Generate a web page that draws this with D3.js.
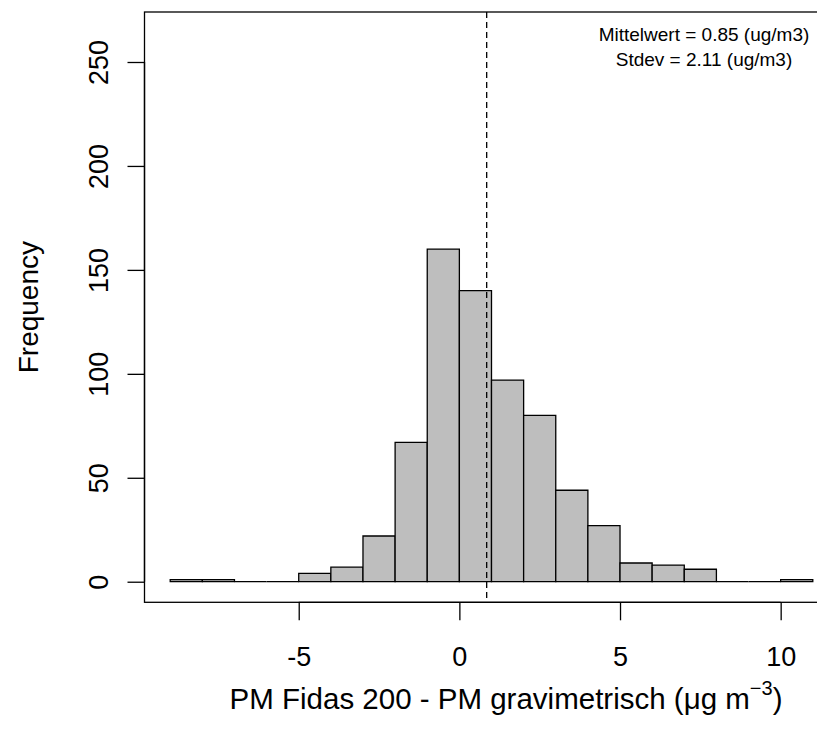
<!DOCTYPE html>
<html><head><meta charset="utf-8">
<script src="https://cdn.jsdelivr.net/npm/d3@7"></script>
<style>
body{margin:0;background:#fff}
svg{display:block}
text{font-family:"Liberation Sans",Arial,Helvetica,sans-serif;fill:#000}
</style>
</head><body>
<svg id="chart" width="817" height="732"></svg>
<script>
// ---- data ----
const binEdges = [-9,-8,-7,-6,-5,-4,-3,-2,-1,0,1,2,3,4,5,6,7,8,9,10,11];
const counts   = [1,1,0,0,4,7,22,67,160,140,97,80,44,27,9,8,6,0,0,1];
const xTicks = [-5,0,5,10];
const yTicks = [0,50,100,150,200,250];
const meanValue = 0.85;
const statLines = ["Mittelwert = 0.85 (ug/m3)","Stdev = 2.11 (ug/m3)"];
const yTitle = "Frequency";
const xTitleMain = "PM Fidas 200 - PM gravimetrisch (\u03bcg m";
const xTitleSup = "\u22123";
const xTitleEnd = ")";

// ---- layout ----
const W = 817, H = 732;
const plot = {left:144.5, right:838.5, top:12, bottom:602.3};
const svg = d3.select("#chart");
svg.append("rect").attr("width",W).attr("height",H).attr("fill","#fff");

const x = d3.scaleLinear().domain([-9.8, 11.8]).range([plot.left, plot.right]);
const y = d3.scaleLinear().domain([-9.9, 274.05]).range([plot.bottom, plot.top]);

const bins = counts.map((c,i)=>({x0:binEdges[i], x1:binEdges[i+1], n:c}));

// bars (paths so that empty bins still show as a flat line)
svg.append("g").selectAll("path").data(bins).join("path")
  .attr("d", d=>{
    const a=x(d.x0), b=x(d.x1), t=y(d.n), z=y(0);
    return `M${a},${z}L${a},${t}L${b},${t}L${b},${z}Z`;
  })
  .attr("fill","#bebebe").attr("stroke","#000").attr("stroke-width",1.3);

// mean line
svg.append("line")
  .attr("x1",x(meanValue)).attr("x2",x(meanValue))
  .attr("y1",plot.top).attr("y2",plot.bottom)
  .attr("stroke","#000").attr("stroke-width",1.3).attr("stroke-dasharray","6,4");

// box
svg.append("rect").attr("x",plot.left).attr("y",plot.top)
  .attr("width",plot.right-plot.left).attr("height",plot.bottom-plot.top)
  .attr("fill","none").attr("stroke","#000").attr("stroke-width",1.3);

// x axis
const xAxis = d3.axisBottom(x).tickValues(xTicks).tickSize(18).tickPadding(0).tickFormat(d3.format("d"));
const gx = svg.append("g").attr("transform",`translate(0,${plot.bottom})`).call(xAxis);
gx.select(".domain").attr("d",`M${x(xTicks[0])},0H${x(xTicks[xTicks.length-1])}`).attr("stroke","#000").attr("stroke-width",1.3);
gx.selectAll(".tick line").attr("stroke","#000").attr("stroke-width",1.3);
gx.selectAll(".tick text").attr("font-size",27).attr("font-family","Liberation Sans, Arial, sans-serif")
  .attr("fill","#000").attr("dy",null).attr("y",64).text(d=>d<0?"-"+Math.abs(d):d);

// y axis
const yAxis = d3.axisLeft(y).tickValues(yTicks).tickSize(17).tickPadding(0);
const gy = svg.append("g").attr("transform",`translate(${plot.left},0)`).call(yAxis);
gy.select(".domain").attr("d",`M0,${y(yTicks[0])}V${y(yTicks[yTicks.length-1])}`).attr("stroke","#000").attr("stroke-width",1.3);
gy.selectAll(".tick line").attr("stroke","#000").attr("stroke-width",1.3);
gy.selectAll(".tick text").attr("font-size",27).attr("font-family","Liberation Sans, Arial, sans-serif")
  .attr("fill","#000").attr("x",null).attr("dy",null)
  .attr("transform","translate(-37,0) rotate(-90)")
  .attr("text-anchor","middle").attr("y",0);

// axis titles
svg.append("text").attr("transform",`translate(38,${(plot.top+plot.bottom)/2}) rotate(-90)`)
  .attr("text-anchor","middle").attr("font-size",28).text(yTitle);

const xt = svg.append("text").attr("x",506).attr("y",709).attr("text-anchor","middle").attr("font-size",29.5);
xt.append("tspan").text(xTitleMain);
xt.append("tspan").attr("dy",-14).attr("font-size",20).text(xTitleSup);
xt.append("tspan").attr("dy",14).text(xTitleEnd);

// stats
svg.append("g").selectAll("text").data(statLines).join("text")
  .attr("x",704).attr("y",(d,i)=>40.7+i*25.6).attr("text-anchor","middle")
  .attr("font-size",19).text(d=>d);
</script>
</body></html>
